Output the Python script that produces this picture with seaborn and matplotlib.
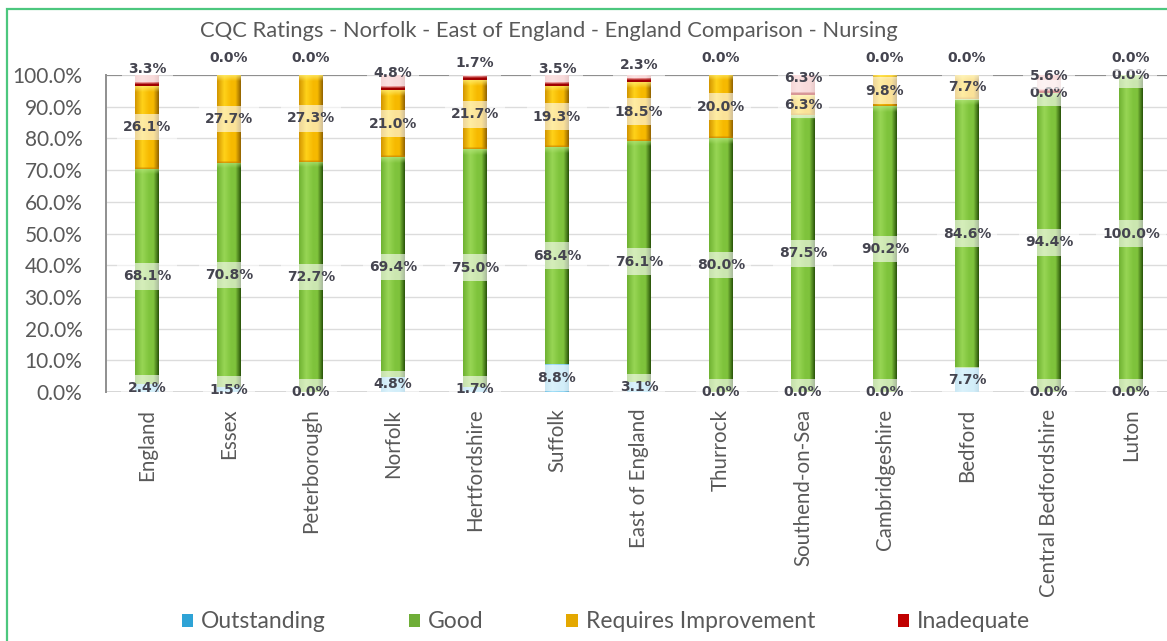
import numpy as np
import pandas as pd
import matplotlib
matplotlib.use("Agg")
import matplotlib.pyplot as plt
import seaborn as sns
from matplotlib.colors import to_rgb
from matplotlib.patches import Patch, Rectangle

# CQC ratings share (%) for nursing homes by area
areas = ["England", "Essex", "Peterborough", "Norfolk", "Hertfordshire", "Suffolk",
         "East of England", "Thurrock", "Southend-on-Sea", "Cambridgeshire", "Bedford",
         "Central Bedfordshire", "Luton"]
outstanding = [2.4, 1.5, 0.0, 4.8, 1.7, 8.8, 3.1, 0.0, 0.0, 0.0, 7.7, 0.0, 0.0]
good = [68.1, 70.8, 72.7, 69.4, 75.0, 68.4, 76.1, 80.0, 87.5, 90.2, 84.6, 94.4, 100.0]
requires_improvement = [26.1, 27.7, 27.3, 21.0, 21.7, 19.3, 18.5, 20.0, 6.3, 9.8, 7.7, 0.0, 0.0]
inadequate = [3.3, 0.0, 0.0, 4.8, 1.7, 3.5, 2.3, 0.0, 6.3, 0.0, 0.0, 5.6, 0.0]

series_names = ["Outstanding", "Good", "Requires Improvement", "Inadequate"]
series_values = [outstanding, good, requires_improvement, inadequate]
legend_colors = ["#2ea3d6", "#6fae38", "#e4a800", "#c00000"]

# cylinder-style shading: (left edge, highlight, body, right edge, top bevel, bottom band)
shading = {
    "Outstanding": ("#7cc6e6", "#a6e0f7", "#93d6f2", "#6ab3d3", None, None),
    "Good": ("#6fb232", "#98d655", "#7fc33c", "#2b560a", "#b5e67c", None),
    "Requires Improvement": ("#d39600", "#ffd21a", "#f6b900", "#946500", "#fff07a", "#c47a00"),
    "Inadequate": ("#e89a9a", "#f7b8b8", "#f0a6a6", "#c77c7c", None, "#a00000"),
}

W, H = 1167, 641
PX_PER_UNIT = (392 - 75) / 100.0
GRAY = "#595959"

sns.set_theme(style="white")
plt.rcParams["font.family"] = ["Lato", "DejaVu Sans"]

fig = plt.figure(figsize=(W / 100, H / 100), dpi=100)
fig.patch.set_facecolor("white")
ax = fig.add_axes([106 / W, 1 - 392 / H, 1066 / W, (392 - 75) / H])

df = pd.DataFrame({"area": areas})
vals = np.array(series_values)
cum = np.cumsum(vals, axis=0)
bottoms = cum - vals

# stacked bars: draw cumulative totals back to front
bar_width = 0.29
layer_patches = {}
for k in range(len(series_names) - 1, -1, -1):
    name = series_names[k]
    df["cum"] = cum[k]
    n0 = len(ax.patches)
    sns.barplot(data=df, x="area", y="cum", color=legend_colors[k], width=bar_width,
                saturation=1, errorbar=None, linewidth=0, zorder=2 + (3 - k), ax=ax)
    layer_patches[name] = ax.patches[n0:]


def mix(a, b, t):
    return a * (1 - t) + b * t


def segment_image(name, h_units, nx=40):
    left, hi, body, right, top, bot = shading[name]
    stops = [0.0, 0.3, 0.6, 0.78, 1.0]
    cols = np.array([to_rgb(left), to_rgb(hi), to_rgb(body), to_rgb(body), to_rgb(right)])
    u = np.linspace(0, 1, nx)
    row = np.stack([np.interp(u, stops, cols[:, c]) for c in range(3)], axis=1)
    hp = max(2, int(round(h_units * PX_PER_UNIT)))
    img = np.repeat(row[None, :, :], hp, axis=0)
    depth = np.arange(hp)[:, None, None] + 0.5
    if top is not None:
        t = np.clip(1 - depth / 6.0, 0, 1) * 0.75
        img = mix(img, np.array(to_rgb(top)), t)
    if bot is not None:
        hb = 3.0 if name == "Inadequate" else 2.0
        t = np.clip((depth - (hp - hb)) / 1.0, 0, 1)
        img = mix(img, np.array(to_rgb(bot)), t * (1.0 if name == "Inadequate" else 0.6))
    return img


for k, name in enumerate(series_names):
    patches = layer_patches[name]
    for i, p in enumerate(patches):
        v = vals[k][i]
        if v <= 0:
            continue
        x0 = p.get_x()
        x1 = x0 + p.get_width()
        im = ax.imshow(segment_image(name, v), extent=(x0, x1, bottoms[k][i], cum[k][i]),
                       origin="upper", aspect="auto", interpolation="bilinear", zorder=6)
        im.set_clip_path(p)

# value labels
label_kw = dict(ha="center", va="center", fontsize=10, fontweight="bold",
                color="#44444f", family="DejaVu Sans", zorder=8, annotation_clip=False,
                bbox=dict(boxstyle="square,pad=0.45", fc="white", ec="none", alpha=0.6))
for k, name in enumerate(series_names):
    for i in range(len(areas)):
        v = vals[k][i]
        txt = f"{v:.1f}%"
        if name == "Inadequate":
            ax.annotate(txt, (i, bottoms[k][i]), xytext=(0, 12.3),
                        textcoords="offset points", **label_kw)
        else:
            ax.annotate(txt, (i, bottoms[k][i] + v / 2), **label_kw)

# axes styling
ax.set_xlim(-0.5, len(areas) - 0.5)
ax.set_ylim(0, 100)
ax.set_yticks(np.arange(0, 101, 10))
ax.set_yticklabels([f"{t:.1f}%" for t in np.arange(0, 101, 10)])
ax.set_xlabel("")
ax.set_ylabel("")
ax.set_facecolor("none")
for t in np.arange(10, 100, 10):
    ax.axhline(t, color="#dcdcdc", lw=1, zorder=1)
ax.axhline(0, color="#d0d0d0", lw=1.2, zorder=1)
ax.axhline(100, color="#8f8f8f", lw=1.6, zorder=1)
for s in ["top", "right", "bottom"]:
    ax.spines[s].set_visible(False)
ax.spines["left"].set_color("#8f8f8f")
ax.spines["left"].set_linewidth(1.4)
ax.tick_params(axis="y", length=0, pad=17, labelsize=15, labelcolor=GRAY)
ax.tick_params(axis="x", length=0, pad=12, labelsize=14.8, labelcolor=GRAY, rotation=90)
for lab in ax.get_xticklabels():
    lab.set_va("top")

# title
fig.text(549 / W, 1 - 31 / H, "CQC Ratings - Norfolk - East of England - England Comparison - Nursing",
         ha="center", va="center", fontsize=15.8, color=GRAY)

# legend
handles = [Patch(facecolor=c, edgecolor="none", label=n) for n, c in zip(series_names, legend_colors)]
fig.legend(handles=handles, loc="center", bbox_to_anchor=(606 / W, 1 - 622 / H), ncol=4,
           frameon=False, fontsize=16.5, handlelength=0.5, handleheight=0.5,
           handletextpad=0.35, columnspacing=3.6, labelcolor=GRAY)

# chart frame
fig.add_artist(Rectangle((7 / W, -0.02), 1.1, 1 - 9 / H + 0.02, transform=fig.transFigure,
                         fill=False, edgecolor="#4cc77e", lw=1.6))

fig.savefig("out.png", dpi=100)
